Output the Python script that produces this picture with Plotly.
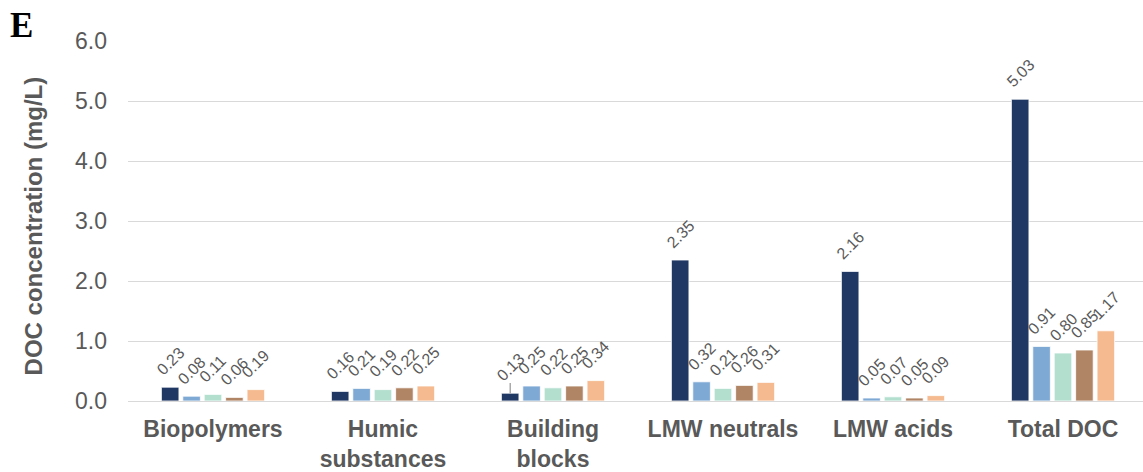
import plotly.graph_objects as go

categories = ["Biopolymers", "Humic<br>substances", "Building<br>blocks",
              "LMW neutrals", "LMW acids", "Total DOC"]
series_names = ["Sample 1", "Sample 2", "Sample 3", "Sample 4", "Sample 5"]
s1 = [0.23, 0.16, 0.13, 2.35, 2.16, 5.03]
s2 = [0.08, 0.21, 0.25, 0.32, 0.05, 0.91]
s3 = [0.11, 0.19, 0.22, 0.21, 0.07, 0.80]
s4 = [0.06, 0.22, 0.25, 0.26, 0.05, 0.85]
s5 = [0.19, 0.25, 0.34, 0.31, 0.09, 1.17]
s1_err = [0, 0, 0.17, 0, 0, 0]
y_ticks = [0, 1, 2, 3, 4, 5, 6]

colors = ["#203864", "#7fa9d5", "#b3dfcf", "#b08565", "#f5ba8f"]
series = [s1, s2, s3, s4, s5]

BARGAP = 0.37
CAT_PX = 170.0
PLOT_W = 1015
slot = CAT_PX * (1 - BARGAP) / len(series)

fig = go.Figure()
for i, (name, vals) in enumerate(zip(series_names, series)):
    kw = {}
    if i == 0:
        kw["error_y"] = dict(type="data", array=s1_err, symmetric=False,
                             arrayminus=[0] * 6, color="#7f7f7f",
                             thickness=1, width=0)
    fig.add_trace(go.Bar(
        x=categories, y=vals, name=name,
        marker=dict(color=colors[i], line=dict(color="white", width=0.8)),
        cliponaxis=False, **kw))
    for c, v in zip(categories, vals):
        fig.add_annotation(
            x=c, y=v, xref="x", yref="y", text=f"{v:.2f}", textangle=-45,
            showarrow=False, xanchor="center", yanchor="bottom",
            xshift=(i - (len(series) - 1) / 2) * slot, yshift=6,
            font=dict(family="Liberation Sans, Arial", size=16, color="#595959"),
        )

fig.update_layout(
    width=1143, height=472,
    margin=dict(l=128, r=0, t=41, b=71),
    barmode="group", bargap=BARGAP, bargroupgap=0.18,
    plot_bgcolor="white", paper_bgcolor="white",
    showlegend=False,
    font=dict(family="Liberation Sans, Arial", color="#595959"),
)
fig.update_xaxes(
    range=[-0.5, -0.5 + PLOT_W / CAT_PX], showgrid=False, showline=False,
    ticks="", ticklabelstandoff=12,
    tickfont=dict(size=23, color="#595959", family="Liberation Sans, Arial"),
    tickprefix="<b>", ticksuffix="</b>",
)
fig.update_yaxes(
    range=[0, 6], tickvals=y_ticks, tickformat=".1f",
    showgrid=True, gridcolor="#d9d9d9", gridwidth=1,
    zeroline=True, zerolinecolor="#d9d9d9", zerolinewidth=1,
    showline=False, ticks="", ticklabelstandoff=20,
    tickfont=dict(size=23, color="#595959", family="Liberation Sans, Arial"),
)
fig.add_annotation(
    text="<b>DOC concentration (mg/L)</b>", textangle=-90,
    xref="paper", yref="paper", x=(33 - 128) / PLOT_W, y=0.485,
    xanchor="center", yanchor="middle", showarrow=False,
    font=dict(size=24, color="#595959", family="Liberation Sans, Arial"),
)
fig.add_annotation(
    text="<b>E</b>", xref="paper", yref="paper",
    x=(21.5 - 128) / PLOT_W, y=1 + (41 - 25.5) / 360,
    xanchor="center", yanchor="middle", showarrow=False,
    font=dict(size=35, color="black", family="Liberation Serif, Times New Roman"),
)

fig.write_html("out.html")
